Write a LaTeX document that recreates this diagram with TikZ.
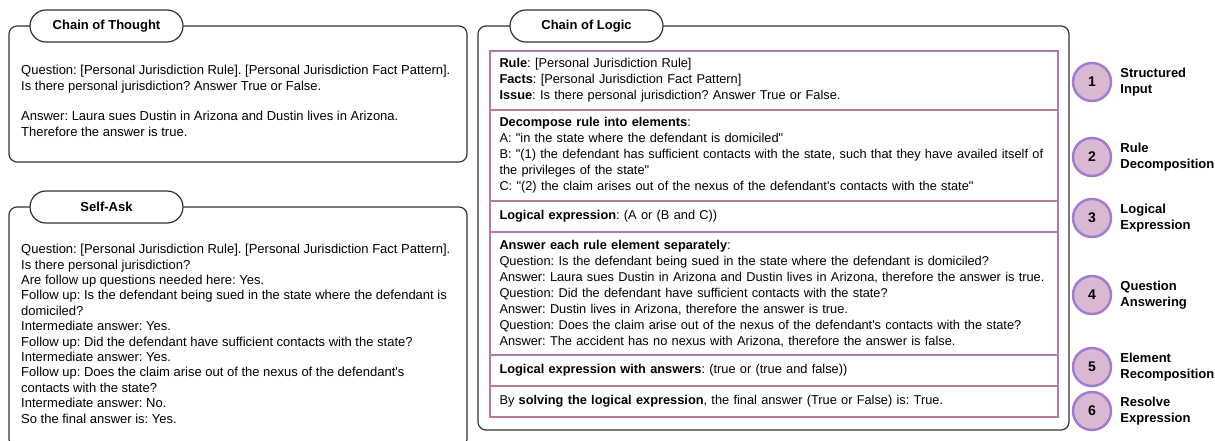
\documentclass[tikz,border=0pt]{standalone}
\usepackage{fontspec}
\setmainfont{Liberation Sans}[Ligatures=TeXOff]
\usetikzlibrary{positioning}
\frenchspacing

\definecolor{panelgray}{HTML}{333333}
\definecolor{rowpink}{HTML}{B7779F}
\definecolor{dotfill}{HTML}{D9B9D2}
\definecolor{dotedge}{HTML}{A47BD2}

\begin{document}
\begin{tikzpicture}[x=1pt, y=-1pt,
  panel/.style={draw=panelgray, line width=1.2pt, rounded corners=8pt, inner sep=0pt, outer sep=0pt, anchor=north west},
  pill/.style={draw=panelgray, fill=white, line width=1.2pt, rounded corners=16pt, minimum width=153pt, minimum height=32pt, inner sep=0pt, font=\fontsize{13}{15}\selectfont\bfseries},
  body/.style={anchor=north west, inner sep=0pt, align=left, font=\fontsize{13}{15.4}\selectfont},
  logicrow/.style={draw=rowpink, line width=1.8pt, minimum width=568pt, text width=549pt, inner xsep=9.5pt, outer sep=0pt, align=left, font=\fontsize{12.8}{16}\selectfont},
  stepdot/.style={circle, draw=dotedge, fill=dotfill, line width=2.5pt, minimum size=38pt, inner sep=0pt, font=\fontsize{14}{16}\selectfont\bfseries},
  steplabel/.style={inner sep=0pt, align=left, font=\fontsize{13}{16}\selectfont\bfseries}
]
\useasboundingbox (0,0) rectangle (1215,441);

% Chain of Thought
\node[panel, minimum width=458pt, minimum height=136pt] (cotbox) at (9,26) {};
\node[pill] (cottitle) at (106.5,26) {Chain of Thought};
\node[body] (cottext) at (21,65) {Question: [Personal Jurisdiction Rule]. [Personal Jurisdiction Fact Pattern].\\
Is there personal jurisdiction? Answer True or False.\\[15.4pt]
Answer: Laura sues Dustin in Arizona and Dustin lives in Arizona.\\
Therefore the answer is true.};

% Self-Ask
\node[panel, minimum width=458pt, minimum height=240pt] (askbox) at (9,207) {};
\node[pill] (asktitle) at (106.5,207) {Self-Ask};
\node[body] (asktext) at (21,244) {Question: [Personal Jurisdiction Rule]. [Personal Jurisdiction Fact Pattern].\\
Is there personal jurisdiction?\\
Are follow up questions needed here: Yes.\\
Follow up: Is the defendant being sued in the state where the defendant is\\
domiciled?\\
Intermediate answer: Yes.\\
Follow up: Did the defendant have sufficient contacts with the state?\\
Intermediate answer: Yes.\\
Follow up: Does the claim arise out of the nexus of the defendant's\\
contacts with the state?\\
Intermediate answer: No.\\
So the final answer is: Yes.};

% Chain of Logic
\node[panel, minimum width=591pt, minimum height=404pt] (colbox) at (478,26) {};
\node[pill] (coltitle) at (586.5,26) {Chain of Logic};

\node[logicrow, minimum height=59pt, anchor=north west] (input) at (490,51) {\textbf{Rule}: [Personal Jurisdiction Rule]\\
\textbf{Facts}: [Personal Jurisdiction Fact Pattern]\\
\textbf{Issue}: Is there personal jurisdiction? Answer True or False.};
\node[logicrow, minimum height=91pt, below=0pt of input] (decomp) {\textbf{Decompose rule into elements}:\\
A: "in the state where the defendant is domiciled"\\
B: "(1) the defendant has sufficient contacts with the state, such that they have availed itself of\\
the privileges of the state"\\
C: "(2) the claim arises out of the nexus of the defendant's contacts with the state"};
\node[logicrow, minimum height=31pt, below=0pt of decomp] (logexpr) {\textbf{Logical expression}: (A or (B and C))};
\node[logicrow, minimum height=123pt, below=0pt of logexpr] (answers) {\textbf{Answer each rule element separately}:\\
Question: Is the defendant being sued in the state where the defendant is domiciled?\\
Answer: Laura sues Dustin in Arizona and Dustin lives in Arizona, therefore the answer is true.\\
Question: Did the defendant have sufficient contacts with the state?\\
Answer: Dustin lives in Arizona, therefore the answer is true.\\
Question: Does the claim arise out of the nexus of the defendant's contacts with the state?\\
Answer: The accident has no nexus with Arizona, therefore the answer is false.};
\node[logicrow, minimum height=31pt, below=0pt of answers] (recomp) {\textbf{Logical expression with answers}: (true or (true and false))};
\node[logicrow, minimum height=31pt, below=0pt of recomp] (resolve) {By \textbf{solving the logical expression}, the final answer (True or False) is: True.};

% Steps
\node[stepdot] (s1) at (1092,82) {1};
\node[stepdot] (s2) at (1092,157) {2};
\node[stepdot] (s3) at (1092,218) {3};
\node[stepdot] (s4) at (1092,295) {4};
\node[stepdot] (s5) at (1092,367) {5};
\node[stepdot] (s6) at (1092,411) {6};

\node[steplabel, right=8pt of s1] (l1) {Structured\\Input};
\node[steplabel, right=8pt of s2] (l2) {Rule\\Decomposition};
\node[steplabel, right=8pt of s3] (l3) {Logical\\Expression};
\node[steplabel, right=8pt of s4] (l4) {Question\\Answering};
\node[steplabel, right=8pt of s5] (l5) {Element\\Recomposition};
\node[steplabel, right=8pt of s6] (l6) {Resolve\\Expression};

\end{tikzpicture}
\end{document}
